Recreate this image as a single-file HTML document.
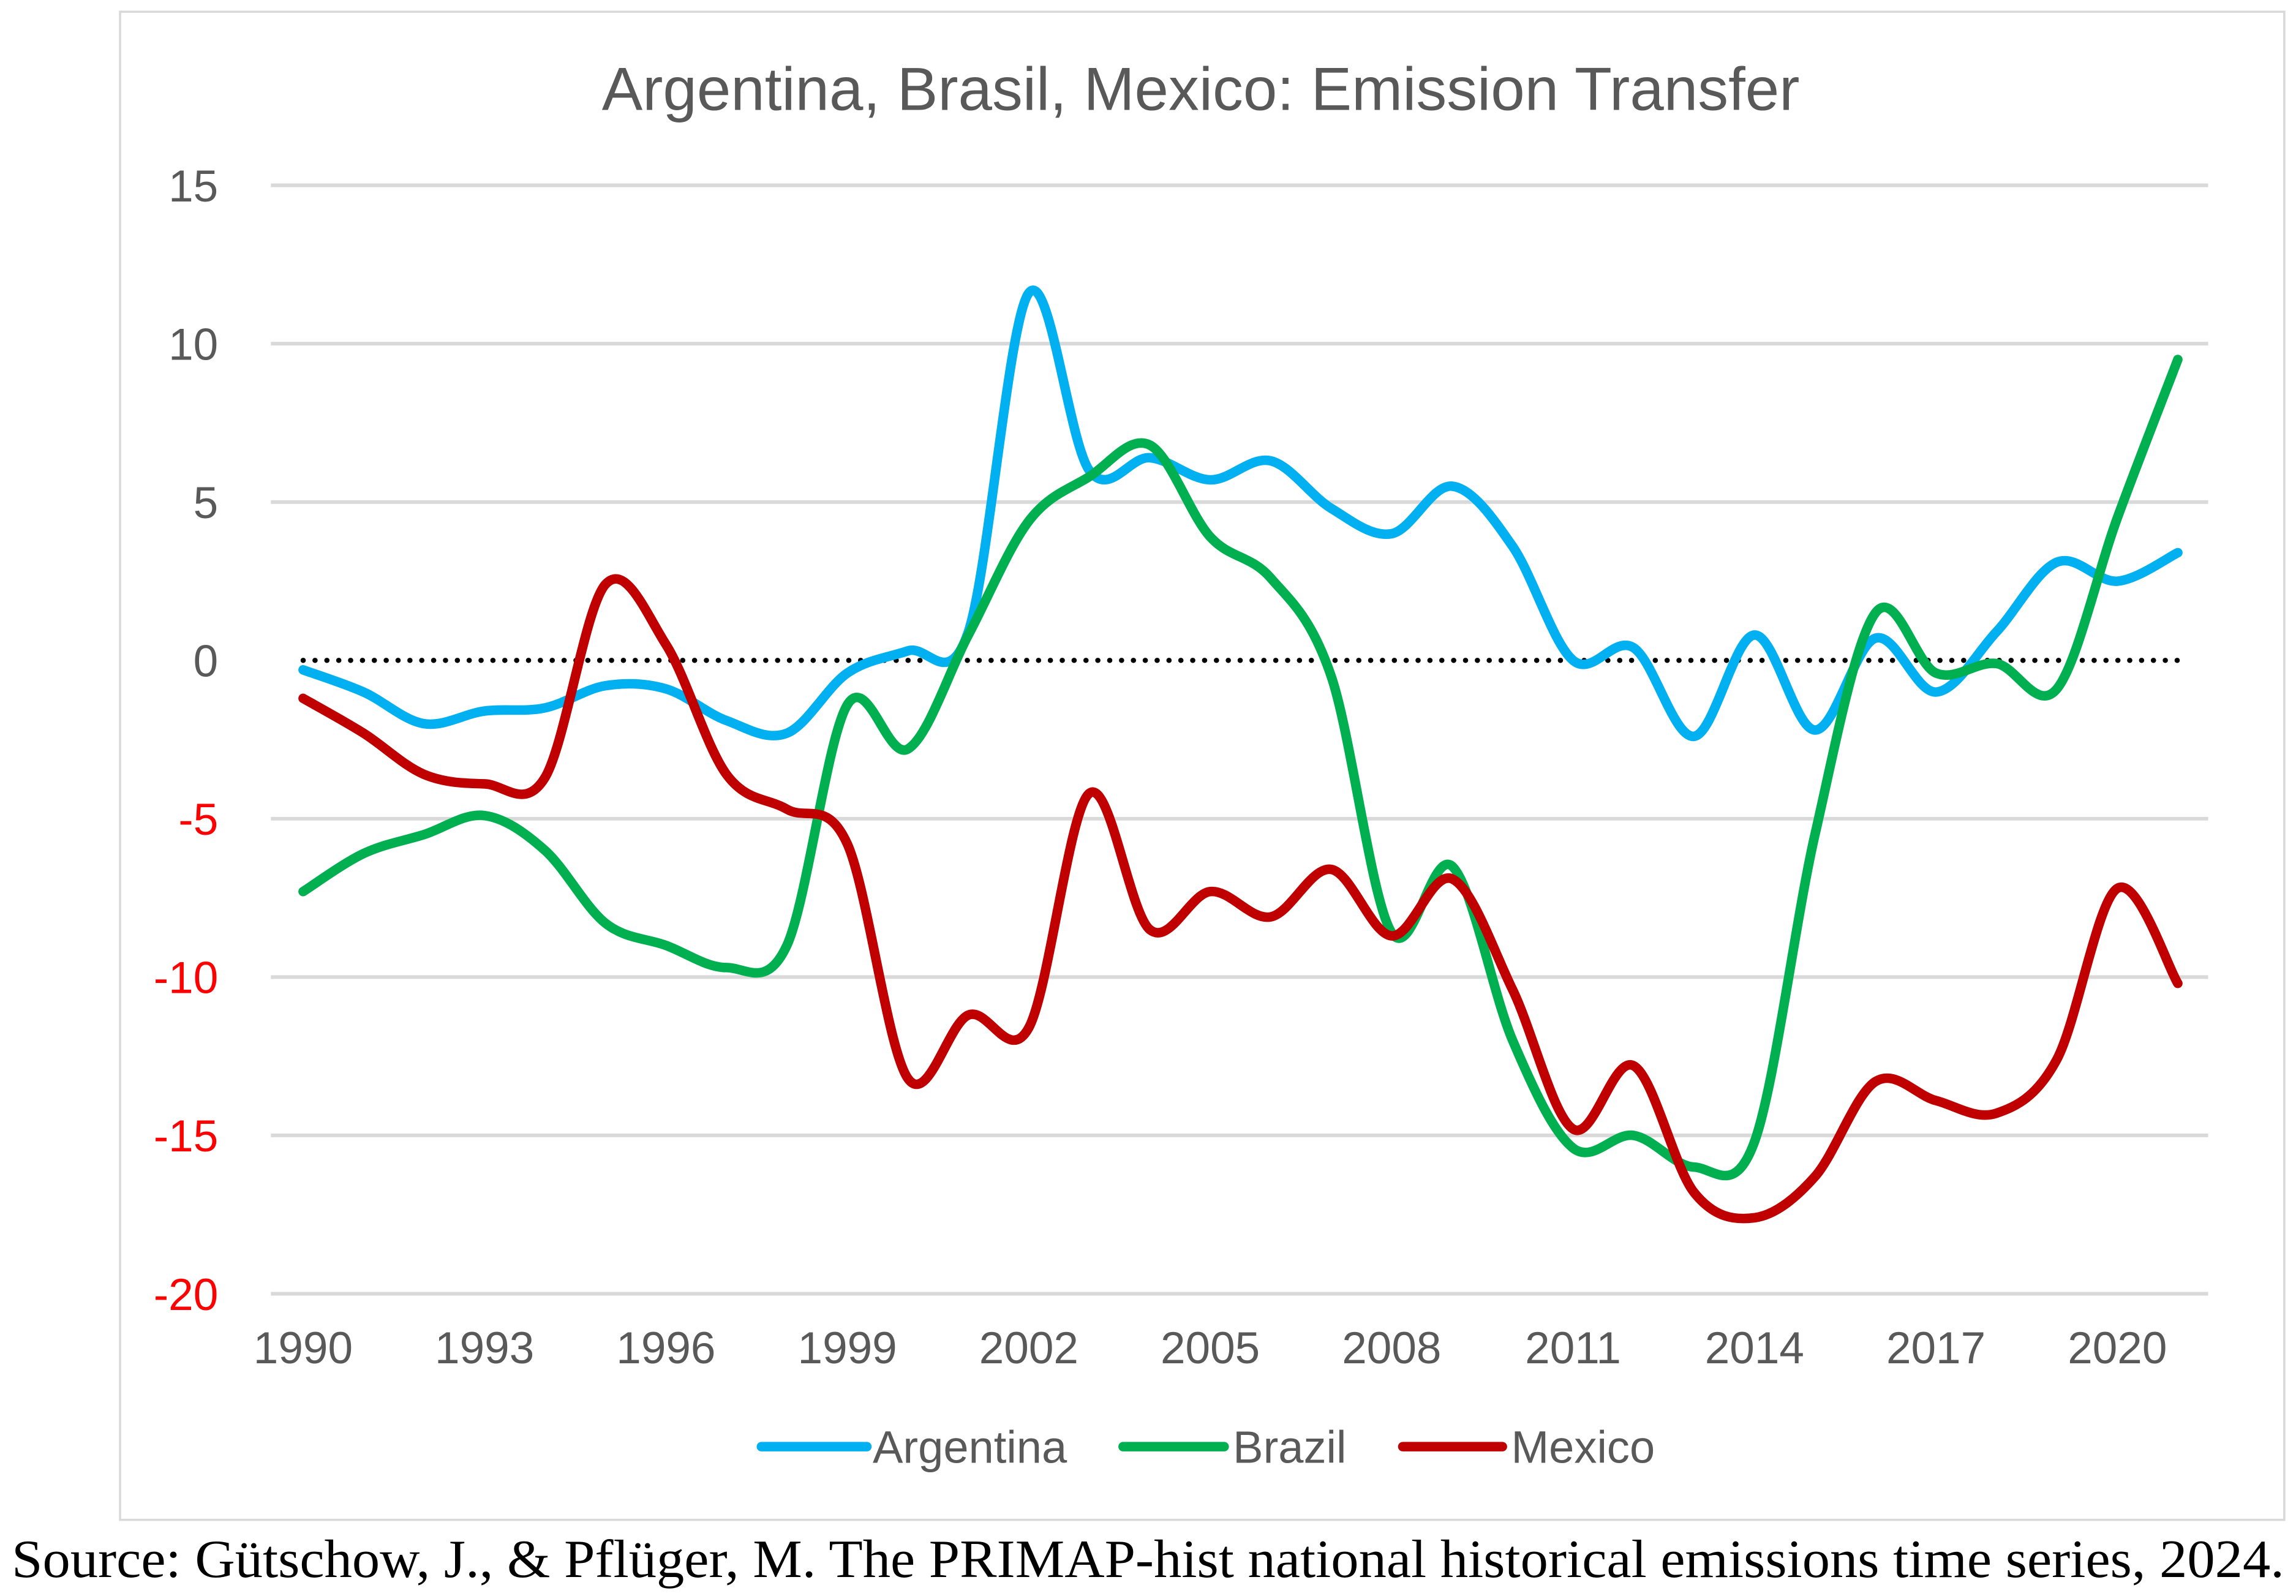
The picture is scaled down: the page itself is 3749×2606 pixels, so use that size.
<!DOCTYPE html>
<html><head><meta charset="utf-8"><style>html,body{margin:0;padding:0;background:#fff}svg{display:block}</style></head>
<body>
<svg id="chart" width="3749" height="2606" viewBox="0 0 1568 1090" preserveAspectRatio="none" xmlns="http://www.w3.org/2000/svg">
<rect x="82" y="8" width="1478" height="1030" fill="#fff" stroke="#d9d9d9" stroke-width="1.5"/>
<text x="820" y="75" text-anchor="middle" font-family="Liberation Sans, sans-serif" font-size="41.7" fill="#595959">Argentina, Brasil, Mexico: Emission Transfer</text>
<g id="grid"></g><g id="yticks"></g><g id="xticks"></g>
<line id="zero" x1="207" x2="1487" stroke="#000" stroke-width="3.5" stroke-dasharray="0.1 8" stroke-linecap="round"/>
<g id="series"></g>
<g>
<line x1="520" x2="592" y1="988" y2="988" stroke="#00b0f0" stroke-width="6.5" stroke-linecap="round"/>
<text x="596" y="999" font-family="Liberation Sans, sans-serif" font-size="31" fill="#595959">Argentina</text>
<line x1="767" x2="836" y1="988" y2="988" stroke="#00b050" stroke-width="6.5" stroke-linecap="round"/>
<text x="842" y="999" font-family="Liberation Sans, sans-serif" font-size="31" fill="#595959">Brazil</text>
<line x1="958" x2="1026" y1="988" y2="988" stroke="#c00000" stroke-width="6.5" stroke-linecap="round"/>
<text x="1032" y="999" font-family="Liberation Sans, sans-serif" font-size="31" fill="#595959">Mexico</text>
</g>
<text x="8" y="1077" textLength="1552" lengthAdjust="spacingAndGlyphs" font-family="Liberation Serif, serif" font-size="37" fill="#000">Source: Gütschow, J., &amp; Pflüger, M. The PRIMAP-hist national historical emissions time series, 2024.</text>
</svg>
<script>
const years=[];for(let y=1990;y<=2021;y++)years.push(y);
const yTicks=[15,10,5,0,-5,-10,-15,-20];
const xTickLabels=[1990,1993,1996,1999,2002,2005,2008,2011,2014,2017,2020];
const argentina=[-0.3,-1,-2,-1.6,-1.5,-0.8,-0.9,-1.9,-2.3,-0.4,0.3,0.9,11.6,6,6.4,5.7,6.3,4.8,4,5.5,3.6,0,0.4,-2.4,0.8,-2.2,0.7,-1,0.9,3.1,2.5,3.4];
const brazil=[-7.3,-6.1,-5.5,-4.9,-6,-8.3,-9,-9.7,-9,-1.4,-2.8,0.8,4.4,5.8,6.8,3.9,2.6,-0.5,-8.6,-6.5,-12,-15.4,-15,-16,-15.2,-5.5,1.5,-0.4,-0.1,-0.9,4.5,9.5];
const mexico=[-1.2,-2.3,-3.6,-3.9,-3.7,2.4,0.5,-3.6,-4.7,-5.8,-13.2,-11.2,-11.6,-4.2,-8.5,-7.3,-8.1,-6.6,-8.7,-6.9,-10.4,-14.8,-12.8,-16.8,-17.6,-16.3,-13.3,-13.9,-14.3,-12.6,-7.2,-10.2];
const NS='http://www.w3.org/2000/svg';
const X=y=>207+(y-1990)*(1446-207)/30;
const Y=v=>451-v*(884-127)/35;
function mk(t,a,p){const e=document.createElementNS(NS,t);for(const k in a)e.setAttribute(k,a[k]);p.appendChild(e);return e;}
const grid=document.getElementById('grid'),yt=document.getElementById('yticks'),xt=document.getElementById('xticks');
yTicks.forEach(v=>{
 if(v!==0){const l=mk('line',{x1:185,x2:1508,y1:Y(v),y2:Y(v),stroke:'#d9d9d9','stroke-width':2.5},grid);
 
 }
 const t=mk('text',{x:149,y:Y(v)+11,'text-anchor':'end','font-family':'Liberation Sans, sans-serif','font-size':30.5,fill:v<0?'#ff0000':'#595959'},yt);
 t.textContent=v;
 
 
});
xTickLabels.forEach(y=>{
 const t=mk('text',{x:X(y),y:931,'text-anchor':'middle','font-family':'Liberation Sans, sans-serif','font-size':30.5,fill:'#595959'},xt);
 t.textContent=y;
 
 
});
const z=document.getElementById('zero');z.setAttribute('y1',Y(0));z.setAttribute('y2',Y(0));
function path(vals){
 const p=vals.map((v,i)=>[X(years[i]),Y(v)]);
 let d='M'+p[0][0]+','+p[0][1];
 for(let i=0;i<p.length-1;i++){
  const p0=p[i-1]||p[i],p1=p[i],p2=p[i+1],p3=p[i+2]||p2;
  const c1=[p1[0]+(p2[0]-p0[0])/6,p1[1]+(p2[1]-p0[1])/6];
  const c2=[p2[0]-(p3[0]-p1[0])/6,p2[1]-(p3[1]-p1[1])/6];
  d+=' C'+c1+' '+c2+' '+p2;
 }
 return d;
}
const S=document.getElementById('series');
[['argentina',argentina,'#00b0f0'],['brazil',brazil,'#00b050'],['mexico',mexico,'#c00000']].forEach(([n,v,c])=>{
 const e=mk('path',{d:path(v),fill:'none',stroke:c,'stroke-width':6.5,'stroke-linejoin':'round','stroke-linecap':'round'},S);
 
 
});
</script>
</body></html>
